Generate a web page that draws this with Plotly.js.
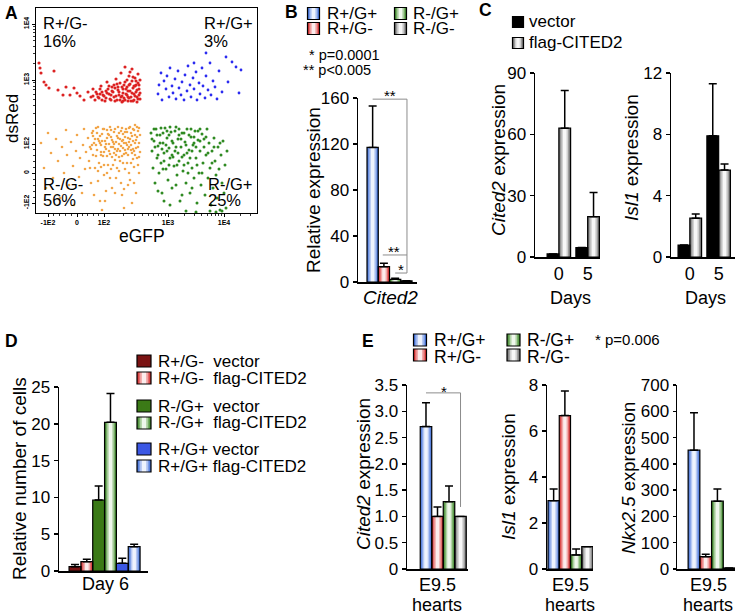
<!DOCTYPE html>
<html>
<head>
<meta charset="utf-8">
<script src="https://cdn.plot.ly/plotly-3.0.1.min.js"></script>
<style>
  body { margin: 0; background: #fff; }
  #chart { width: 741px; height: 615px; }
</style>
</head>
<body>
<div id="chart"></div>
<script>
// ---- Panel A: flow cytometry (display units of the biexponential axes) ----
const flowTickX = [12, 41, 68, 132, 188];
const flowTickY = [10, 40, 69, 133, 189];
const flowTickText = ['-1E2', '0', '1E2', '1E3', '1E4'];

const redX = [3,4,5,8,10,13,18,22,27,30,34,38,41,44,48,52,55,57,59,61,63,65,66,68,69,71,72,73,74,76,77,78,79,80,81,82,83,84,85,86,87,88,89,90,91,92,93,93,94,95,96,96,97,98,98,99,100,100,101,101,102,102,103,103,104,89,94,99,86,91,79,75,70,64,57,
  60,62,64,66,67,70,71,73,75,76,78,80,81,82,83,84,85,86,87,88,89,90,91,92,93,94,95,96,97,98,99,100,101,102,103,104,104,97,92,87];
const redY = [150,145,140,131,128,125,142,123,118,126,118,125,120,117,113,121,116,124,113,119,115,127,121,117,112,131,124,119,114,126,121,116,112,134,129,123,118,113,140,126,120,115,131,124,118,112,137,128,122,116,144,132,125,119,113,135,128,121,116,111,139,130,124,118,114,146,141,127,117,126,125,118,122,119,117,
  121,116,124,113,118,115,120,127,113,122,128,117,113,126,121,130,116,111,124,128,113,119,133,122,115,129,112,120,136,127,117,132,123,114,128,120,133,112,116,112];

const blueX = [122,123,125,126,128,130,131,133,134,136,137,139,140,142,143,145,146,148,149,151,152,154,155,157,158,160,161,163,164,166,167,169,170,172,174,175,177,179,181,183,186,190,192,196,200,203,205,170,158];
const blueY = [119,128,140,113,132,124,137,116,145,127,120,134,114,142,125,118,131,113,138,122,147,128,116,135,124,141,113,130,119,145,127,115,137,123,150,118,132,126,114,142,121,156,131,151,146,120,143,160,150];

const orangeX = [5,8,10,12,15,17,20,22,24,26,28,30,31,33,35,37,38,40,41,43,44,46,47,48,49,50,
  52,53,54,55,56,57,58,59,60,61,62,63,64,65,66,67,68,69,70,71,72,73,74,75,76,77,78,79,80,81,82,83,84,85,86,87,88,88,
  89,90,91,92,93,94,95,96,97,98,99,100,101,102,103,104,103,100,96,92,86,80,75,70,66,62,58,84,90,95,99,78,73,68,64,60,57,54,86,91,97,102,94,82,76,
  61,63,65,67,69,71,73,75,77,79,81,83,85,87,89,91,93,95,97,99,101,103,98,92,87,81,74,68,62,56,
  55,57,59,60,62,64,65,66,68,70,71,72,74,75,76,78,79,80,82,83,84,86,87,88,89,90,92,93,94,96,97,98,100,101,102,104,103,99,95,89,83,77,71,65,85,93,79,69,98,88];
const orangeY = [70,45,25,80,60,35,74,52,15,66,40,83,58,28,71,47,8,62,78,36,55,20,68,84,44,61,
  75,52,66,30,80,58,70,45,85,63,74,50,12,68,79,57,38,72,64,83,48,69,59,76,25,66,81,53,71,62,86,42,74,67,57,79,5,70,
  63,84,50,75,66,33,80,60,72,46,78,65,55,82,70,61,40,20,10,28,18,35,44,22,3,32,18,52,60,68,88,60,78,61,70,57,77,45,72,68,54,48,86,64,56,
  80,72,61,84,66,75,62,83,71,64,77,69,82,65,76,81,71,63,84,70,76,85,62,58,50,45,35,48,42,68,
  64,82,74,68,86,77,58,72,84,69,57,79,86,66,73,69,84,58,75,80,62,85,73,59,81,70,64,85,74,77,64,83,73,86,66,78,56,58,50,44,56,48,40,46,30,40,20,12,30,24];

const greenX = [115,116,117,118,119,120,121,122,123,124,125,126,127,128,129,130,131,132,133,134,135,136,137,138,139,140,141,142,143,144,145,146,147,148,149,150,151,152,153,154,155,156,157,158,159,160,161,162,163,164,165,166,167,168,169,170,171,172,173,174,175,176,177,178,179,180,181,182,183,184,185,186,187,188,189,190,191,186,180,174,160,150,122,128,134,140,146,152,158,164,170,176,166,156,136,126,131,143,148,
  116,118,119,121,122,124,125,127,128,130,131,133,134,136,137,139,140,142,143,145,146,148,150,151,153,155,156,158,160,162,164,127,133,141,154,161,168,172,178,184];
const greenY = [80,62,45,72,30,84,55,67,40,78,50,20,70,60,85,44,75,33,65,55,81,25,70,47,62,86,38,74,52,12,66,80,42,58,71,30,84,50,63,20,76,45,68,35,82,55,10,73,40,62,28,79,50,66,18,58,84,35,70,45,8,62,25,75,52,38,15,66,44,3,58,30,72,20,48,5,62,2,1,2,1,2,22,12,8,28,18,40,70,84,76,50,40,25,58,64,82,78,48,
  74,84,66,78,58,70,85,80,52,68,62,78,86,72,56,82,66,60,84,74,56,80,68,60,78,84,62,76,66,82,72,44,48,48,55,48,74,60,66,70];

// ---- Panel B: Cited2 relative expression ----
const bGroups = ['R+/G+', 'R+/G-', 'R-/G+', 'R-/G-'];
const bValues = [117, 13.3, 2.3, 1.0];
const bErrors = [36, 2.9, 0.9, null];

// ---- Panel C: vector vs flag-CITED2, days 0 and 5 ----
const cSeries = ['vector', 'flag-CITED2'];
const cDays = ['0', '5'];
const cCited2 = [1.5, 63, 4.6, 19.7];
const cCited2Err = [null, 18.4, null, 11.9];
const cIsl1 = [0.78, 2.53, 7.9, 5.67];
const cIsl1Err = [null, 0.27, 3.4, 0.4];

// ---- Panel D: relative number of cells, day 6 ----
const dLabels = ['R+/G-\u00a0\u00a0vector', 'R+/G-\u00a0\u00a0flag-CITED2', 'R-/G+\u00a0\u00a0vector',
  'R-/G+\u00a0\u00a0flag-CITED2', 'R+/G+ vector', 'R+/G+ flag-CITED2'];
const dValues = [0.59, 1.27, 9.65, 20.2, 1.04, 3.3];
const dErrors = [0.31, 0.33, 1.9, 3.9, 0.68, 0.32];

// ---- Panel E: E9.5 hearts ----
const eCited2 = [2.71, 1.0, 1.28, 1.0];
const eCited2Err = [0.45, 0.18, 0.3, null];
const eIsl1 = [2.97, 6.67, 0.61, 0.97];
const eIsl1Err = [0.51, 1.07, 0.26, null];
const eNkx = [452, 47, 258, 4];
const eNkxErr = [142, 9, 46, null];

// ---- styling ----
const W = 741, H = 615;
const FONT = '"Liberation Sans", Arial, sans-serif';
const LAYERS = [1, 0.78, 0.55, 0.3];
const PAL = {
  blue:   ['#3f6fd6', '#7b9ce6', '#b7c9f3', '#eef3fd'],
  red:    ['#d22c2c', '#e36c6c', '#f1abab', '#fcecec'],
  green:  ['#3f8a2c', '#77ad66', '#b3d4a8', '#eff7ec'],
  gray:   ['#6d6d6d', '#9d9d9d', '#d0d0d0', '#f7f7f7'],
  black:  ['#000', '#000', '#000', '#000'],
  dred:   ['#7a1313', '#7a1313', '#7a1313', '#7a1313'],
  dgreen: ['#3b7a17', '#3b7a17', '#3b7a17', '#3b7a17'],
  dblue:  ['#3c58e4', '#3c58e4', '#3c58e4', '#3c58e4']
};
const groupPals = [PAL.blue, PAL.red, PAL.green, PAL.gray];

const ax = (p, n) => p + (n > 1 ? n : '');
const dom = (a, b) => [a / W, b / W];
const domY = (bottom, top) => [1 - bottom / H, 1 - top / H];

function gradientBars(n, xs, ys, errs, pals) {
  const common = { type: 'bar', x: xs, y: ys, xaxis: ax('x', n), yaxis: ax('y', n), hoverinfo: 'skip', showlegend: false };
  const traces = LAYERS.map((f, i) => ({
    ...common, width: xs.map(() => f),
    marker: { color: pals.map(p => p[i]), line: { width: 0 } }
  }));
  traces.push({
    ...common, width: xs.map(() => 1),
    marker: { color: 'rgba(0,0,0,0)', line: { color: '#000', width: 1.2 } },
    error_y: {
      type: 'data', symmetric: false,
      array: errs.map(e => e == null ? NaN : e), arrayminus: errs.map(() => 0),
      color: '#000', thickness: 1.5, width: 4
    }
  });
  return traces;
}

function barYAxis(n, bottom, top, range, vals, text) {
  return {
    domain: domY(bottom, top), range, anchor: ax('x', n),
    tickmode: 'array', tickvals: vals, ticktext: text || vals.map(String),
    showline: true, linecolor: '#000', linewidth: 1.5,
    ticks: 'outside', ticklen: 4, tickwidth: 1.5, tickcolor: '#000',
    tickfont: { size: 17 }, showgrid: false, zeroline: false, fixedrange: true
  };
}

function barXAxis(n, left, right, range, vals, text) {
  return {
    domain: dom(left, right), range, anchor: ax('y', n),
    showline: true, linecolor: '#000', linewidth: 1.5, ticks: '',
    showticklabels: !!vals, tickmode: 'array', tickvals: vals || [], ticktext: text || [],
    tickfont: { size: 18 }, showgrid: false, zeroline: false, fixedrange: true
  };
}

function flowMinor(major, end) {
  const out = [];
  for (let i = 0; i < major.length - 1; i++) {
    const a = major[i], b = major[i + 1];
    if (i < 2) for (let k = 1; k < 5; k++) out.push(a + (b - a) * k / 5);
    else for (let k = 2; k < 10; k++) out.push(a + (b - a) * Math.log10(k));
  }
  const last = major[major.length - 1], step = last - major[major.length - 2];
  for (let k = 2; k < 10; k++) {
    const v = last + step * Math.log10(k);
    if (v < end) out.push(v);
  }
  return out;
}

function txt(x, y, text, size, extra) {
  return Object.assign({
    xref: 'paper', yref: 'paper', x: x / W, y: 1 - y / H, text, showarrow: false,
    xanchor: 'left', yanchor: 'middle', font: { size: size || 17, color: '#000', family: FONT }
  }, extra || {});
}
const mid = (x, y, text, size) => txt(x, y, text, size, { xanchor: 'center' });
const rot = (x, y, text, size) => txt(x, y, text, size, { xanchor: 'center', textangle: -90 });
const bold = (x, y, text) => txt(x, y, '<b>' + text + '</b>', 17.5);

function swatch(cx, cy, pal, w, h) {
  w = w || 12; h = h || 12;
  const base = { type: 'rect', xref: 'paper', yref: 'paper', y0: 1 - (cy + h / 2) / H, y1: 1 - (cy - h / 2) / H, layer: 'above' };
  const s = LAYERS.map((f, i) => ({ ...base, x0: (cx - w * f / 2) / W, x1: (cx + w * f / 2) / W, fillcolor: pal[i], line: { width: 0 } }));
  s.push({ ...base, x0: (cx - w / 2) / W, x1: (cx + w / 2) / W, fillcolor: 'rgba(0,0,0,0)', line: { color: '#000', width: 1.2 } });
  return s;
}

function bracket(n, x0, y0, x1, y1) {
  return { type: 'line', xref: ax('x', n), yref: ax('y', n), x0, y0, x1, y1, line: { color: '#8c8c8c', width: 1 } };
}

// ---- traces ----
const dot = (x, y, color, size) => ({
  type: 'scatter', mode: 'markers', x, y, xaxis: 'x', yaxis: 'y', hoverinfo: 'skip', showlegend: false,
  marker: { color, size, line: { width: 0 } }
});

const traces = [
  dot(orangeX, orangeY, '#f2a64a', 2.6),
  dot(greenX, greenY, '#2f8a22', 3),
  dot(redX, redY, '#dc2222', 3.1),
  dot(blueX, blueY, '#2b2bf0', 2.8),
  ...gradientBars(2, [1, 2, 3, 4], bValues, bErrors, groupPals),
  ...gradientBars(3, [1, 2, 3.45, 4.45], cCited2, cCited2Err, [PAL.black, PAL.gray, PAL.black, PAL.gray]),
  ...gradientBars(4, [1, 2, 3.45, 4.45], cIsl1, cIsl1Err, [PAL.black, PAL.gray, PAL.black, PAL.gray]),
  ...gradientBars(5, [1, 2, 3, 4, 5, 6], dValues, dErrors, [PAL.dred, PAL.red, PAL.dgreen, PAL.green, PAL.dblue, PAL.blue]),
  ...gradientBars(6, [1, 2, 3, 4], eCited2, eCited2Err, groupPals),
  ...gradientBars(7, [1, 2, 3, 4], eIsl1, eIsl1Err, groupPals),
  ...gradientBars(8, [1, 2, 3, 4], eNkx, eNkxErr, groupPals)
];

// ---- shapes (legend swatches and significance brackets) ----
const shapes = [
  ...swatch(313.5, 13.5, PAL.blue), ...swatch(313.5, 28.5, PAL.red),
  ...swatch(400.5, 13.5, PAL.green), ...swatch(400.5, 28.5, PAL.gray),
  ...swatch(518, 22, PAL.black, 11, 11), ...swatch(518, 43, PAL.gray, 11, 11),
  ...swatch(144, 361, PAL.dred, 14, 12), ...swatch(144, 378, PAL.red, 14, 12),
  ...swatch(144, 406, PAL.dgreen, 14, 12), ...swatch(144, 423, PAL.green, 14, 12),
  ...swatch(144, 449, PAL.dblue, 14, 12), ...swatch(144, 466, PAL.blue, 14, 12),
  ...swatch(420, 340, PAL.blue, 13, 12), ...swatch(420, 355, PAL.red, 13, 12),
  ...swatch(513.5, 340, PAL.green, 13, 12), ...swatch(513.5, 355, PAL.gray, 13, 12),
  bracket(2, 1.0, 159, 4.05, 159), bracket(2, 4.05, 159, 4.05, 7.8),
  bracket(2, 1.9, 23.5, 4.05, 23.5), bracket(2, 3.0, 7.8, 4.05, 7.8),
  bracket(6, 1.0, 3.35, 4.0, 3.35), bracket(6, 4.0, 3.35, 4.0, 1.18)
];

// ---- text ----
const dRows = [361, 378, 406, 423, 449, 466];
const annotations = [
  bold(3, 13, 'A'), bold(283, 12, 'B'), bold(477, 10, 'C'), bold(3, 341, 'D'), bold(360, 341, 'E'),
  // A
  txt(41, 23, 'R+/G-', 16.5), txt(41, 41, '16%', 16.5), txt(202, 23, 'R+/G+', 16.5), txt(202, 41, '3%', 16.5),
  txt(41, 184, 'R-/G-', 16.5), txt(41, 200, '56%', 16.5), txt(206, 184, 'R-/G+', 16.5), txt(206, 200, '25%', 16.5),
  rot(13, 119, 'dsRed', 17), mid(142, 236, 'eGFP', 17.5),
  // B
  txt(325, 14, bGroups[0]), txt(325, 29, bGroups[1]), txt(411, 14, bGroups[2]), txt(411, 29, bGroups[3]),
  txt(307, 55, '* p=0.0001', 14.5), txt(301, 70, '** p<0.005', 14.5),
  rot(313, 190, 'Relative expression', 19), mid(390, 297, '<i>Cited2</i>', 19),
  mid(390, 95, '**', 15), mid(394, 252, '**', 15), mid(401, 269, '*', 15),
  // C
  txt(527, 22, cSeries[0]), txt(527, 42, cSeries[1]),
  rot(498, 160, '<i>Cited2</i> expression', 19), rot(632, 158, '<i>Isl1</i> expression', 19),
  mid(570, 298, 'Days', 18), mid(705, 298, 'Days', 18),
  // D
  ...dLabels.map((t, i) => txt(156, dRows[i], t)),
  rot(20, 479, 'Relative number of cells', 19), mid(106, 584, 'Day 6', 18),
  // E
  txt(432, 340, bGroups[0], 17.5), txt(432, 357, bGroups[1], 17.5), txt(525, 340, bGroups[2], 17.5), txt(525, 357, bGroups[3], 17.5),
  txt(593, 339, '* p=0.006', 15), mid(444, 391, '*', 15),
  rot(363, 474, '<i>Cited2</i> expression', 19), rot(508, 477, '<i>Isl1</i> expression', 19),
  rot(628, 478, '<i>Nkx2.5</i> expression', 18.5),
  mid(437, 585, 'E9.5', 18), mid(437, 605, 'hearts', 18),
  mid(570, 585, 'E9.5', 18), mid(570, 605, 'hearts', 18),
  mid(708, 585, 'E9.5', 18), mid(708, 605, 'hearts', 18)
];

const flowAxis = {
  showline: true, mirror: true, linecolor: '#000', linewidth: 1,
  ticks: 'outside', ticklen: 3, tickwidth: 1, tickcolor: '#000', tickmode: 'array', ticktext: flowTickText,
  tickfont: { size: 7, weight: 'bold' }, showgrid: false, zeroline: false, fixedrange: true
};

const layout = {
  width: W, height: H, margin: { l: 0, r: 0, t: 0, b: 0 },
  paper_bgcolor: '#fff', plot_bgcolor: 'rgba(0,0,0,0)',
  font: { family: FONT, color: '#000' }, barmode: 'overlay', showlegend: false,
  xaxis: { ...flowAxis, domain: dom(36, 257), range: [0, 221], anchor: 'y', tickvals: flowTickX,
    minor: { tickvals: flowMinor(flowTickX, 221), ticks: 'outside', ticklen: 2, tickwidth: 0.8, tickcolor: '#000' } },
  yaxis: { ...flowAxis, domain: domY(213, 8), range: [0, 205], anchor: 'x', tickvals: flowTickY, tickangle: -90,
    minor: { tickvals: flowMinor(flowTickY, 205), ticks: 'outside', ticklen: 2, tickwidth: 0.8, tickcolor: '#000' } },
  xaxis2: barXAxis(2, 358, 417, [-0.3, 4.94]),
  yaxis2: barYAxis(2, 282, 98, [0, 160], [0, 40, 80, 120, 160]),
  xaxis3: barXAxis(3, 535, 600, [-0.53, 5.0], [1.5, 3.95], cDays),
  yaxis3: barYAxis(3, 257, 73, [0, 90], [0, 30, 60, 90]),
  xaxis4: barXAxis(4, 671, 735, [-0.1, 5.34], [1.5, 3.95], cDays),
  yaxis4: barYAxis(4, 257, 73, [0, 12], [0, 4, 8, 12]),
  xaxis5: barXAxis(5, 59, 148, [-0.35, 7.17]),
  yaxis5: barYAxis(5, 571, 387, [0, 25], [0, 5, 10, 15, 20, 25]),
  xaxis6: barXAxis(6, 407, 468, [-0.65, 4.65]),
  yaxis6: barYAxis(6, 569, 385, [0, 3.5], [0, 0.5, 1, 1.5, 2, 2.5, 3, 3.5], ['0', '0.5', '1.0', '1.5', '2.0', '2.5', '3.0', '3.5']),
  xaxis7: barXAxis(7, 547, 593, [0.41, 4.5]),
  yaxis7: barYAxis(7, 569, 385, [0, 8], [0, 2, 4, 6, 8]),
  xaxis8: barXAxis(8, 677, 735, [-0.45, 4.5]),
  yaxis8: { ...barYAxis(8, 569, 385, [0, 700], [0, 100, 200, 300, 400, 500, 600, 700]), ticklen: 3 },
  shapes, annotations
};

Plotly.newPlot('chart', traces, layout, { displayModeBar: false, staticPlot: true });
</script>
</body>
</html>
